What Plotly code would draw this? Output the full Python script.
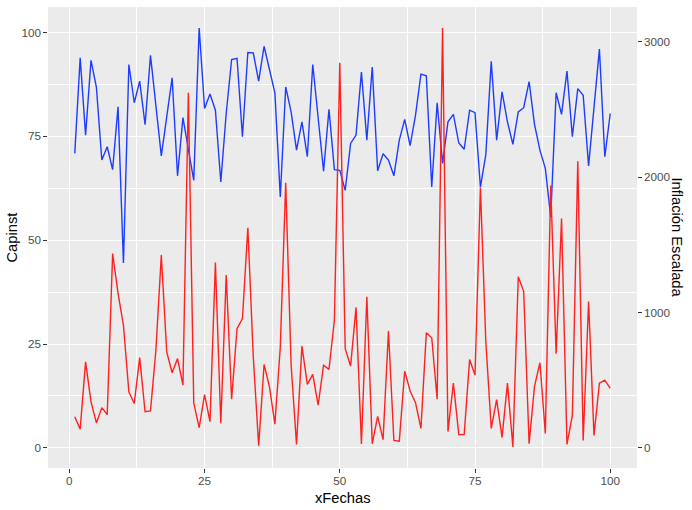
import plotly.graph_objects as go

x_fechas = list(range(1, 101))

capinst = [
    70.9, 93.9, 75.3, 93.3, 86.8, 69.3, 72.5, 67.0, 82.1, 44.5,
    92.3, 83.1, 88.3, 77.8, 94.5, 82.5, 70.3, 79.7, 89.1, 65.5,
    79.5, 71.9, 64.4, 101.1, 81.7, 85.2, 81.3, 64.0, 80.5, 93.5,
    93.8, 74.9, 95.2, 95.1, 88.3, 96.7, 90.9, 85.5, 60.4, 86.9,
    80.9, 71.7, 78.5, 70.1, 92.3, 79.5, 66.6, 81.5, 67.0, 66.8,
    62.0, 73.3, 75.3, 90.5, 74.1, 91.7, 66.7, 70.8, 69.3, 65.5,
    74.1, 79.1, 72.8, 80.1, 90.0, 89.6, 62.8, 83.1, 68.5, 78.5,
    80.3, 73.4, 71.9, 81.3, 80.7, 62.8, 70.6, 93.1, 74.1, 85.7,
    78.5, 73.1, 80.9, 81.9, 88.2, 77.9, 71.7, 67.3, 55.6, 85.5,
    80.3, 90.7, 74.9, 86.5, 84.9, 67.9, 81.3, 96.0, 70.1, 80.5,
]

inflacion_escalada = [
    230, 138, 635, 340, 184, 297, 245, 1435, 1141, 905,
    414, 328, 666, 267, 273, 721, 1423, 708, 555, 659,
    463, 2622, 331, 150, 393, 193, 1368, 181, 1276, 359,
    880, 954, 1626, 675, 15, 616, 451, 175, 745, 1957,
    610, 25, 751, 469, 543, 316, 610, 580, 942, 2843,
    733, 604, 1037, 28, 1116, 31, 233, 61, 862, 55,
    49, 567, 420, 334, 144, 850, 813, 359, 3101, 120,
    478, 98, 98, 653, 537, 1923, 782, 144, 356, 77,
    478, 6, 1264, 1156, 31, 454, 629, 107, 1938, 696,
    1693, 25, 242, 2116, 55, 1080, 92, 478, 500, 439,
]

x_ticks = [0, 25, 50, 75, 100]
y_left_ticks = [0, 25, 50, 75, 100]
y_right_ticks = [0, 1000, 2000, 3000]

font_family = "Liberation Sans, Arial, sans-serif"
tick_font = dict(family=font_family, size=11.7, color="#4D4D4D")

fig = go.Figure()
fig.add_trace(go.Scatter(x=x_fechas, y=capinst, mode="lines",
                         line=dict(color="#1E3CFF", width=1.4), yaxis="y"))
fig.add_trace(go.Scatter(x=x_fechas, y=inflacion_escalada, mode="lines",
                         line=dict(color="#FF2020", width=1.4), yaxis="y2"))

left_range = [-4.85, 106.15]
factor = 30.67
right_range = [left_range[0] * factor, left_range[1] * factor]

fig.update_layout(
    width=692, height=510,
    margin=dict(l=47.6, r=55, t=7.3, b=42.3),
    paper_bgcolor="white",
    plot_bgcolor="#EBEBEB",
    showlegend=False,
    font=dict(family=font_family),
    xaxis=dict(
        range=[-3.95, 104.95], tickvals=x_ticks, ticktext=[str(v) for v in x_ticks],
        showgrid=True, gridcolor="white", gridwidth=1.07,
        minor=dict(dtick=12.5, tick0=0, showgrid=True, gridcolor="white", gridwidth=0.53, ticks=""),
        zeroline=False, showline=False,
        ticks="outside", ticklen=3.7, tickwidth=1.07, tickcolor="#333333",
        tickfont=tick_font, ticklabelstandoff=-2,
    ),
    yaxis=dict(
        range=left_range, tickvals=y_left_ticks, ticktext=[str(v) for v in y_left_ticks],
        showgrid=True, gridcolor="white", gridwidth=1.07,
        minor=dict(dtick=12.5, tick0=0, showgrid=True, gridcolor="white", gridwidth=0.53, ticks=""),
        zeroline=False, showline=False,
        ticks="outside", ticklen=3.7, tickwidth=1.07, tickcolor="#333333",
        tickfont=tick_font,
    ),
    yaxis2=dict(
        range=right_range, overlaying="y", side="right",
        tickvals=y_right_ticks, ticktext=[str(v) for v in y_right_ticks],
        showgrid=False, zeroline=False, showline=False,
        ticks="outside", ticklen=3.7, tickwidth=1.07, tickcolor="#333333",
        tickfont=tick_font,
    ),
    annotations=[
        dict(text="xFechas", xref="paper", yref="paper", x=0.5, y=0, yshift=-20,
             xanchor="center", yanchor="top", showarrow=False,
             font=dict(family=font_family, size=14.7, color="black")),
        dict(text="Capinst", xref="paper", yref="paper", x=0, y=0.5, xshift=-37,
             xanchor="center", yanchor="middle", textangle=-90, showarrow=False,
             font=dict(family=font_family, size=14.7, color="black")),
        dict(text="Inflación Escalada", xref="paper", yref="paper", x=1, y=0.5, xshift=40,
             xanchor="center", yanchor="middle", textangle=90, showarrow=False,
             font=dict(family=font_family, size=14.7, color="black")),
    ],
)

fig.write_html("out.html", config={"displayModeBar": False},
               post_script="document.body.style.margin='0';")
